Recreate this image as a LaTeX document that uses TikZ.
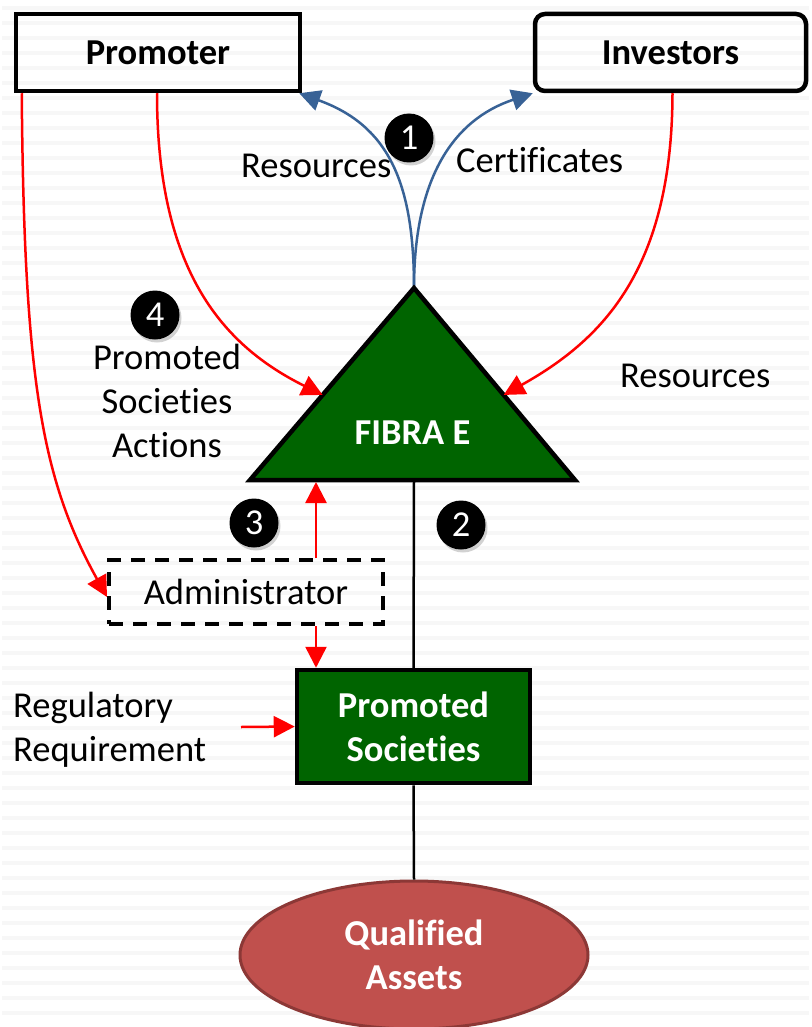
\documentclass[tikz,border=0pt]{standalone}
\usepackage{fontspec}
\setmainfont{Carlito}[Ligatures=CommonOff]
\usepackage{tikz}
\usetikzlibrary{positioning}
\usetikzlibrary{arrows.meta}
\usetikzlibrary{shapes,calc,shadows}
\definecolor{fibragreen}{RGB}{0,100,0}
\definecolor{flowblue}{RGB}{56,98,150}
\definecolor{assetred}{RGB}{192,80,77}
\definecolor{assetborder}{RGB}{140,56,54}
\newcommand{\diagfont}{\fontsize{36.5}{44}\selectfont}
\tikzset{box node/.style={rectangle,draw,line width=4.5pt,inner sep=0pt,font=\diagfont\bfseries},
  step badge/.style={circle,fill=black,text=white,minimum size=49pt,inner sep=0pt,
    drop shadow={opacity=0.35,shadow xshift=2pt,shadow yshift=-3pt}},
  flow label/.style={inner sep=0pt},
  red flow/.style={->,red,line width=2.5pt},
  blue flow/.style={->,flowblue,line width=2.5pt},
  plain link/.style={-,black,line width=2.5pt},
  stripe/.style={black!3,line width=4pt},}

\begin{document}
\begin{tikzpicture}[x=1pt,y=-1pt,>={Triangle[length=21pt,width=21pt]},font=\diagfont]
	% background
	\fill[white] (0,0) rectangle (807,1027);
	\foreach \y in {8,23,...,1027}
		\draw[stripe] (0,\y) -- (807,\y);
	\useasboundingbox (0,0) rectangle (807,1027);

	\node[box node, minimum width=284pt, minimum height=77pt] (promoter) at (156,52.5) {Promoter};
	\node[box node, rounded corners=10pt, minimum width=271pt, minimum height=77pt] (investors) at (668.5,52.5) {Investors};
	\node[box node, line width=4pt, dash pattern=on 14pt off 10pt, font=\diagfont, minimum width=274pt, minimum height=64pt] (admin) at (244,592) {Administrator};
	\node[box node, fill=fibragreen, text=white, align=center, minimum width=233pt, minimum height=113pt] (ps) at (411.5,726.5) {Promoted\\Societies};
	\node[ellipse, draw=assetborder, line width=3pt, fill=assetred, text=white, font=\diagfont\bfseries, align=center, inner sep=0pt, minimum width=348pt, minimum height=148pt] (assets) at (412,955) {Qualified\\Assets};

	% FIBRA E triangle
	\coordinate (apex) at (412,288);
	\coordinate (bl) at (248,480);
	\coordinate (br) at (573,480);
	\draw[blue flow] (apex) .. controls (412,180) and (385,125) .. ([xshift=-3pt]promoter.south east);
	\draw[blue flow] (apex) .. controls (412,180) and (450,120) .. (investors.south west);
	\draw[fill=fibragreen, line width=4.5pt] (apex) -- (br) -- (bl) -- cycle;
	\node[text=white, font=\diagfont\bfseries] (fibra) at (410.5,433) {FIBRA E};

	\draw[red flow] ([xshift=8pt]promoter.south west) .. controls (22,380) and (40,480) .. ([yshift=-5pt]admin.west);
	\draw[red flow] ([xshift=-1pt]promoter.south) .. controls (155,270) and (220,345) .. ($(apex)!0.557!(bl)$);
	\draw[red flow] ([xshift=2pt]investors.south) .. controls (670,270) and (600,340) .. ($(apex)!0.557!(br)$);
	\draw[red flow] ([xshift=70pt]admin.north) -- ([xshift=70pt,yshift=-2pt]admin.north |- bl);
	\draw[red flow] ([xshift=70pt]admin.south) -- ([xshift=70pt]admin.south |- ps.north);
	\coordinate (regstart) at (239,727);
	\draw[red flow] (regstart) -- (ps.west);

	\path[plain link]
	(apex |- bl) edge (ps.north)
	(ps.south) edge (assets.north);

	% steps
	\node[step badge] (one) at (407,138) {1};
	\node[step badge] (two) at (459,525) {2};
	\node[step badge] (three) at (252,523) {3};
	\node[step badge] (four) at (153,315) {4};

	\node[flow label, anchor=base west] (resleft) at (239,178) {Resources};
	\node[flow label, anchor=base west] (certif) at (454,173) {Certificates};
	\node[flow label, anchor=base west] (resright) at (618,387) {Resources};
	\node[flow label, align=center] (psactions) at (165,401) {Promoted\\Societies\\Actions};
	\node[flow label, align=left, anchor=west] (regreq) at (11,730) {Regulatory\\Requirement};
\end{tikzpicture}
\end{document}
